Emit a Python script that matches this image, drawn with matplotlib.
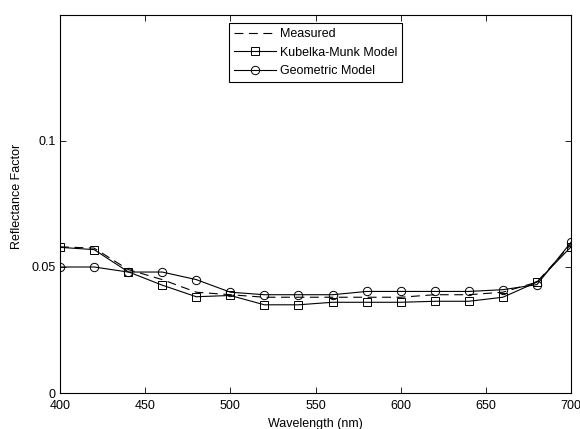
import matplotlib
matplotlib.use("Agg")
import matplotlib.pyplot as plt

plt.rcParams['font.family'] = ['Liberation Sans', 'DejaVu Sans']

wavelength = [400, 420, 440, 460, 480, 500, 520, 540, 560, 580, 600, 620, 640, 660, 680, 700]
measured = [0.058, 0.0575, 0.049, 0.045, 0.040, 0.039, 0.038, 0.038, 0.038, 0.038, 0.038,
            0.039, 0.039, 0.040, 0.044, 0.059]
kubelka_munk = [0.0578, 0.0569, 0.0481, 0.0428, 0.0382, 0.0387, 0.035, 0.035, 0.036, 0.036,
                0.036, 0.0364, 0.0364, 0.038, 0.044, 0.058]
geometric = [0.050, 0.050, 0.048, 0.048, 0.045, 0.040, 0.039, 0.039, 0.039, 0.0403, 0.0403,
             0.0403, 0.0403, 0.041, 0.043, 0.0598]

fig = plt.figure(figsize=(5.8, 4.29), dpi=100)
ax = fig.add_axes([60 / 580, 1 - 393 / 429, 511 / 580, 378 / 429])

ax.plot(wavelength, measured, 'k--', lw=0.8, dashes=(8, 5), label='Measured')
ax.plot(wavelength, kubelka_munk, 'k-', lw=0.8, marker='s', ms=6, mfc='none',
        mew=0.7, label='Kubelka-Munk Model')
ax.plot(wavelength, geometric, 'k-', lw=0.8, marker='o', ms=6, mfc='none',
        mew=0.7, label='Geometric Model')

ax.set_xlim(400, 700)
ax.set_ylim(0, 0.15)
ax.set_xticks(range(400, 701, 50))
ax.set_yticks([0, 0.05, 0.1])
ax.set_yticklabels(['0', '0.05', '0.1'])
ax.tick_params(direction='in', top=True, right=True, labelsize=9, length=4, width=0.6, pad=3)
ax.tick_params(axis='x', pad=5)
for s in ax.spines.values():
    s.set_linewidth(0.8)

ax.set_xlabel('Wavelength (nm)', fontsize=9, labelpad=4)
ax.set_ylabel('Reflectance Factor', fontsize=9)
ax.yaxis.set_label_coords(-0.072, 0.52)

leg = ax.legend(loc='upper center', bbox_to_anchor=(0.5, 1 - 8.5 / 378), fontsize=9,
                fancybox=False, edgecolor='black', framealpha=1, borderpad=0.4,
                labelspacing=0.5, handlelength=3.4, handletextpad=0.3, borderaxespad=0)
leg.get_frame().set_linewidth(0.8)

fig.savefig('out.png', dpi=100)
